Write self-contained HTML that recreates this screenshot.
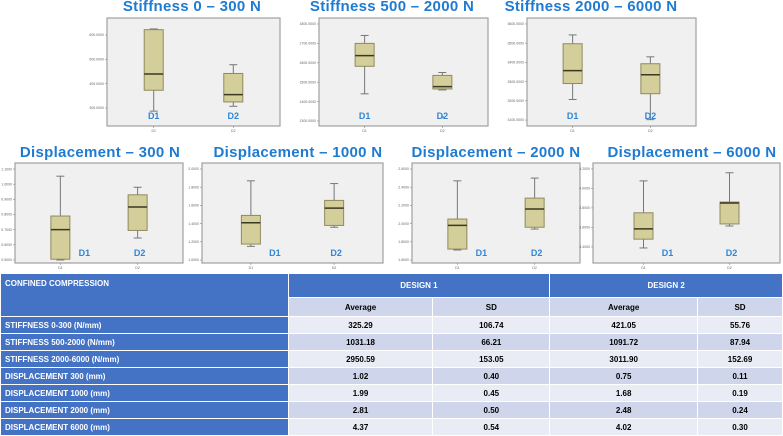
<!DOCTYPE html>
<html><head><meta charset="utf-8"><style>
body{margin:0;width:783px;height:435px;overflow:hidden;background:#fff;font-family:"Liberation Sans",sans-serif;position:relative}
svg{position:absolute;left:0;top:0}
table{position:absolute;left:0;top:273px;width:783px;border-collapse:collapse;font-family:"Liberation Sans",sans-serif;font-size:8px;font-weight:bold}
td{border:1.5px solid #fff;padding:0;text-align:center;color:#000}
tr.d{height:17px}
td.h{background:#4472C4;color:#fff}
td.rl{background:#4472C4;color:#fff;text-align:left;padding-left:4px}
tr.a td{background:#E9EBF5}
tr.b td{background:#CFD5EA}
tr.a td.rl,tr.b td.rl{background:#4472C4}
</style></head><body>
<svg id="charts" width="783" height="273"></svg>
<table>
<colgroup><col style="width:288px"><col style="width:145px"><col style="width:117px"><col style="width:148px"><col style="width:85px"></colgroup>
<tr style="height:24px"><td class="h" rowspan="2" style="text-align:left;vertical-align:top;padding:5px 4px">CONFINED COMPRESSION</td><td class="h" colspan="2">DESIGN 1</td><td class="h" colspan="2">DESIGN 2</td></tr>
<tr class="b" style="height:19px"><td>Average</td><td>SD</td><td>Average</td><td>SD</td></tr>
<tr class="a d"><td class="rl">STIFFNESS 0-300 (N/mm)</td><td>325.29</td><td>106.74</td><td>421.05</td><td>55.76</td></tr>
<tr class="b d"><td class="rl">STIFFNESS 500-2000 (N/mm)</td><td>1031.18</td><td>66.21</td><td>1091.72</td><td>87.94</td></tr>
<tr class="a d"><td class="rl">STIFFNESS 2000-6000 (N/mm)</td><td>2950.59</td><td>153.05</td><td>3011.90</td><td>152.69</td></tr>
<tr class="b d"><td class="rl">DISPLACEMENT 300 (mm)</td><td>1.02</td><td>0.40</td><td>0.75</td><td>0.11</td></tr>
<tr class="a d"><td class="rl">DISPLACEMENT 1000 (mm)</td><td>1.99</td><td>0.45</td><td>1.68</td><td>0.19</td></tr>
<tr class="b d"><td class="rl">DISPLACEMENT 2000 (mm)</td><td>2.81</td><td>0.50</td><td>2.48</td><td>0.24</td></tr>
<tr class="a d"><td class="rl">DISPLACEMENT 6000 (mm)</td><td>4.37</td><td>0.54</td><td>4.02</td><td>0.30</td></tr>
</table>
<script>
// categories
const categories = ["D1","D2"];
// chart titles
const titles = ["Stiffness 0 – 300 N","Stiffness 500 – 2000 N","Stiffness 2000 – 6000 N","Displacement – 300 N","Displacement – 1000 N","Displacement – 2000 N","Displacement – 6000 N"];
// tick values per chart
const ticks0 = [300,400,500,600];
const ticks1 = [1300,1400,1500,1600,1700,1800];
const ticks2 = [3100,3200,3300,3400,3500,3600];
const ticks3 = [0.5,0.6,0.7,0.8,0.9,1.0,1.1];
const ticks4 = [1.0,1.2,1.4,1.6,1.8,2.0];
const ticks5 = [1.6,1.8,2.0,2.2,2.4,2.6];
const ticks6 = [3.4,3.6,3.8,4.0,4.2];
// axis domains [min,max]
const domain0 = [226,670];
const domain1 = [1274,1831];
const domain2 = [3069,3631];
const domain3 = [0.48,1.14];
const domain4 = [0.967,2.066];
const domain5 = [1.567,2.666];
const domain6 = [3.236,4.26];
// box stats [min,q1,median,q3,max] for D1 and D2
const d1Stats0 = [287,373,440,622,625];
const d2Stats0 = [307,325,355,442,478];
const d1Stats1 = [1440,1582,1637,1700,1741];
const d2Stats1 = [1460,1465,1477,1535,1550];
const d2Outliers1 = [1320];
const d1Stats2 = [3207,3290,3357,3497,3543];
const d2Stats2 = [3102,3237,3336,3393,3429];
const d1Stats3 = [0.50,0.505,0.70,0.79,1.053];
const d2Stats3 = [0.645,0.695,0.85,0.93,0.98];
const d1Stats4 = [1.15,1.175,1.41,1.49,1.87];
const d2Stats4 = [1.36,1.38,1.57,1.655,1.84];
const d1Stats5 = [1.71,1.72,1.98,2.05,2.47];
const d2Stats5 = [1.94,1.96,2.16,2.28,2.50];
const d1Stats6 = [3.39,3.48,3.585,3.75,4.077];
const d2Stats6 = [3.615,3.636,3.85,3.86,4.16];

const NS="http://www.w3.org/2000/svg";
const svg=document.getElementById('charts');
function mk(tag,attrs,parent){const e=document.createElementNS(NS,tag);for(const k in attrs)e.setAttribute(k,attrs[k]);(parent||svg).appendChild(e);return e;}
const layouts=[
 {x0:107,x1:280,y0:18,y1:126,tx:192,ty:11},
 {x0:319,x1:488,y0:18,y1:126,tx:392,ty:11},
 {x0:527,x1:696,y0:18,y1:126,tx:591,ty:11},
 {x0:15,x1:183,y0:163,y1:263,tx:100,ty:157},
 {x0:202,x1:383,y0:163,y1:263,tx:298,ty:157},
 {x0:412,x1:580,y0:163,y1:263,tx:496,ty:157},
 {x0:593,x1:780,y0:163,y1:263,tx:692,ty:157}
];
const allTicks=[ticks0,ticks1,ticks2,ticks3,ticks4,ticks5,ticks6];
const allDomains=[domain0,domain1,domain2,domain3,domain4,domain5,domain6];
const allStats=[[d1Stats0,d2Stats0],[d1Stats1,d2Stats1],[d1Stats2,d2Stats2],[d1Stats3,d2Stats3],[d1Stats4,d2Stats4],[d1Stats5,d2Stats5],[d1Stats6,d2Stats6]];
const outliers=[[[],[]],[[],d2Outliers1],[[],[]],[[],[]],[[],[]],[[],[]],[[],[]]];
const fracs=[0.27,0.73];
for(let c=0;c<7;c++){
 const L=layouts[c],dom=allDomains[c];
 const g=mk('g',{});
 
 
 const y=v=>L.y1-(v-dom[0])/(dom[1]-dom[0])*(L.y1-L.y0);
 const x=i=>L.x0+(L.x1-L.x0)*fracs[i];
 const t=mk('text',{x:L.tx,y:L.ty,'text-anchor':'middle','font-size':15,'font-weight':'bold',fill:'#1E7BD2','font-family':'"Liberation Sans",sans-serif','letter-spacing':0.3},g);
 t.textContent=titles[c];
 
 
 const bg=mk('rect',{x:L.x0,y:L.y0,width:L.x1-L.x0,height:L.y1-L.y0,fill:'#F0F0F0',stroke:'#A0A0A0','stroke-width':1.2},g);
 
 
 allTicks[c].forEach(v=>{
  const yy=y(v);
  mk('line',{x1:L.x0-2,x2:L.x0,y1:yy,y2:yy,stroke:'#888','stroke-width':0.6},g);
  const tl=mk('text',{x:L.x0-3,y:yy+1.2,'text-anchor':'end','font-size':3.5,fill:'#666'},g);
  tl.textContent=v.toFixed(4);
  
  
 });
 for(let i=0;i<2;i++){
  const s=allStats[c][i],cx=x(i),w=19;
  const bx=mk('g',{},g);
  
  
  mk('line',{x1:cx,x2:cx,y1:y(s[0]),y2:y(s[4]),stroke:'#777','stroke-width':1},bx);
  mk('line',{x1:cx-4,x2:cx+4,y1:y(s[0]),y2:y(s[0]),stroke:'#777','stroke-width':1},bx);
  mk('line',{x1:cx-4,x2:cx+4,y1:y(s[4]),y2:y(s[4]),stroke:'#777','stroke-width':1},bx);
  mk('rect',{x:cx-w/2,y:y(s[3]),width:w,height:y(s[1])-y(s[3]),fill:'#D4CF9A',stroke:'#8E8A5E','stroke-width':1},bx);
  mk('line',{x1:cx-w/2,x2:cx+w/2,y1:y(s[2]),y2:y(s[2]),stroke:'#3A3820','stroke-width':1.5},bx);
  outliers[c][i].forEach(v=>{mk('circle',{cx:cx,cy:y(v),r:1,fill:'none',stroke:'#666','stroke-width':0.6},bx);});
  mk('line',{x1:cx,x2:cx,y1:L.y1,y2:L.y1+2,stroke:'#888','stroke-width':0.6},g);
  const ct=mk('text',{x:cx,y:L.y1+6,'text-anchor':'middle','font-size':3.5,fill:'#666'},g);
  ct.textContent=categories[i];
  const lab=mk('text',{x:cx+(c>=3?(i===0?24:2):0),y:L.y1-7,'text-anchor':'middle','font-size':9,'font-weight':'bold',fill:'#2F86D6'},g);
  lab.textContent=categories[i];
  
  
 }
}
</script>
</body></html>
